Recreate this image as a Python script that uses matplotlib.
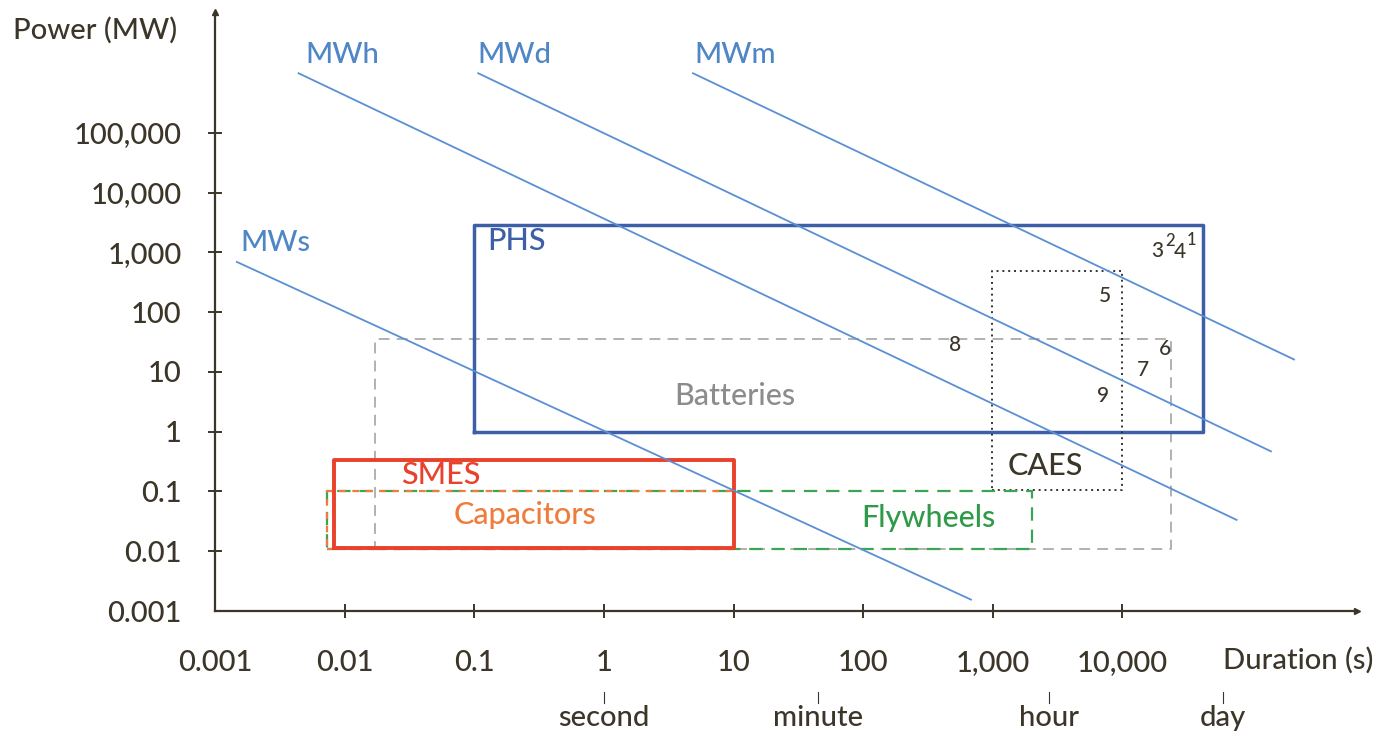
import numpy as np
import matplotlib
matplotlib.use("Agg")
from matplotlib import pyplot as plt
from matplotlib.transforms import blended_transform_factory

plt.rcParams['font.family'] = ['Lato', 'DejaVu Sans']
plt.rcParams['font.weight'] = 500

# iso-energy lines: (label, start duration, start power, end duration, end power)
line_names = ["MWs", "MWh", "MWd", "MWm"]
line_t0 = [0.00147, 0.0044, 0.107, 4.86]
line_p0 = [695, 1.0e6, 1.0e6, 1.0e6]
line_t1 = [679, 7.6e4, 1.4e5, 2.11e5]
line_p1 = [0.00155, 0.0335, 0.47, 16.2]
line_lab_t = [0.0029, 0.0095, 0.205, 10.2]
line_lab_p = [1450, 2.05e6, 2.05e6, 2.05e6]

# technology boxes: duration range (s) and power range (MW)
tech_names = ["Batteries", "PHS", "CAES", "Flywheels", "Capacitors", "SMES"]
tech_tmin = [0.017, 0.1, 980, 0.0073, 0.0073, 0.0083]
tech_tmax = [23700, 4.2e4, 1.0e4, 2000, 10, 10]
tech_pmin = [0.011, 1.0, 0.106, 0.011, 0.011, 0.0114]
tech_pmax = [35, 2880, 490, 0.1, 0.1, 0.335]
tech_lab_t = [10.3, 0.213, 2530, 316, 0.245, 0.055]
tech_lab_p = [3.9, 1550, 0.266, 0.036, 0.041, 0.188]

# numbered projects
num_labels = ["3", "4", "5", "8", "6", "7", "9"]
num_t = [18500, 27800, 7350, 511, 21300, 14400, 7080]
num_p = [1060, 1020, 188, 28.7, 24.7, 10.6, 3.9]
sup_labels = ["2", "1"]
sup_t = [23300, 34400]
sup_p = [1550, 1620]

xtick_vals = [0.001, 0.01, 0.1, 1, 10, 100, 1000, 10000]
xtick_labels = ["0.001", "0.01", "0.1", "1", "10", "100", "1,000", "10,000"]
ytick_vals = [0.001, 0.01, 0.1, 1, 10, 100, 1000, 10000, 100000]
ytick_labels = ["0.001", "0.01", "0.1", "1", "10", "100", "1,000", "10,000", "100,000"]

time_names = ["second", "minute", "hour", "day"]
time_vals = [1, 45, 2700, 6.0e4]

dark = "#3b3629"
blue_line = "#5b8fd4"
styles = {
    "Batteries": dict(color="#ababab", lw=1.3, ls=(0, (6, 4)), tc="#8c8c8c"),
    "PHS": dict(color="#3c5fa8", lw=2.5, ls="-", tc="#3c5fa8"),
    "CAES": dict(color="#333333", lw=1.4, ls=(0, (1, 2)), tc=dark),
    "Capacitors": dict(color="#f07c3c", lw=1.6, ls=(0, (3, 3)), tc="#f07c3c"),
    "Flywheels": dict(color="#3aa655", lw=1.6, ls=(0, (6, 4)), tc="#2f9a48"),
    "SMES": dict(color="#e8412c", lw=2.8, ls="-", tc="#e8412c"),
}

W, H = 1383, 738
fig = plt.figure(figsize=(W / 100, H / 100), dpi=100)
ax = fig.add_axes([215 / W, (H - 611) / H, (1357 - 215) / W, (611 - 12) / H])
ax.set_xscale("log")
ax.set_yscale("log")
ax.set_xlim(10 ** ((215 - 604) / 129.6), 10 ** ((1357 - 604) / 129.6))
ax.set_ylim(10 ** ((433.5 - 611) / 60.0), 10 ** ((433.5 - 12) / 60.0))

for s in ["top", "right"]:
    ax.spines[s].set_visible(False)
for s in ["left", "bottom"]:
    ax.spines[s].set_color(dark)
    ax.spines[s].set_linewidth(1.6)
ax.plot(1, 0, ">", color=dark, ms=5, transform=ax.transAxes, clip_on=False)
ax.plot(0, 1, "^", color=dark, ms=5, transform=ax.transAxes, clip_on=False)

ax.minorticks_off()
ax.set_xticks(xtick_vals)
ax.set_xticklabels(xtick_labels)
ax.set_yticks(ytick_vals)
ax.set_yticklabels(ytick_labels)
ax.tick_params(axis="both", direction="inout", length=10, width=1.4, color=dark,
               labelsize=21, labelcolor=dark)
ax.tick_params(axis="x", pad=23)
ax.tick_params(axis="y", pad=19)
ax.xaxis.get_major_ticks()[0].tick1line.set_visible(False)
ax.yaxis.get_major_ticks()[0].tick1line.set_visible(False)

# boxes
for i, name in enumerate(tech_names):
    st = styles[name]
    xs = [tech_tmin[i], tech_tmax[i], tech_tmax[i], tech_tmin[i], tech_tmin[i]]
    ys = [tech_pmin[i], tech_pmin[i], tech_pmax[i], tech_pmax[i], tech_pmin[i]]
    ax.plot(xs, ys, color=st["color"], lw=st["lw"], ls=st["ls"], zorder=2)
    ax.text(tech_lab_t[i], tech_lab_p[i], name, color=st["tc"], fontsize=22,
            ha="center", va="center", zorder=4)

# iso-energy lines
for i, name in enumerate(line_names):
    ax.plot([line_t0[i], line_t1[i]], [line_p0[i], line_p1[i]], color=blue_line, lw=1.3, zorder=3)
    ax.text(line_lab_t[i], line_lab_p[i], name, color="#4f86c6", fontsize=21,
            ha="center", va="center", clip_on=False)

for lab, t, p in zip(num_labels, num_t, num_p):
    ax.text(t, p, lab, color=dark, fontsize=15, ha="center", va="center")
for lab, t, p in zip(sup_labels, sup_t, sup_p):
    ax.text(t, p, lab, color=dark, fontsize=12, ha="center", va="center")

# axis titles
fig.text(13 / W, 1 - 30 / H, "Power (MW)", fontsize=21, color=dark, ha="left", va="center")
fig.text(1298 / W, 1 - 660 / H, "Duration (s)", fontsize=21, color=dark, ha="center", va="center")

# time markers under the axis
tr = blended_transform_factory(ax.transData, fig.transFigure)
for name, v in zip(time_names, time_vals):
    ax.plot([v, v], [1 - 692 / H, 1 - 703 / H], color=dark, lw=0.8, transform=tr, clip_on=False)
    ax.text(v, 1 - 718 / H, name, transform=tr, fontsize=21, color=dark,
            ha="center", va="center", clip_on=False)

fig.savefig("out.png", dpi=100)
